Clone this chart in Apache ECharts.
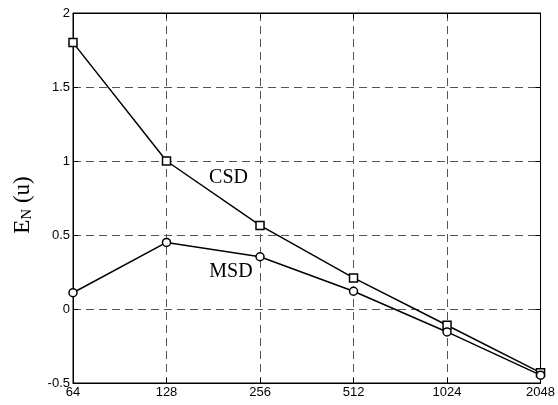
<!DOCTYPE html>
<html><head><meta charset="utf-8">
<script src="https://cdn.jsdelivr.net/npm/echarts@6/dist/echarts.min.js"></script>
<style>html,body{margin:0;padding:0;background:#fff}#c{width:558px;height:405px}</style>
</head><body><div id="c"></div>
<script>
const categories = ['64','128','256','512','1024','2048'];
const csd = [1.8, 1.0, 0.565, 0.21, -0.11, -0.43];
const msd = [0.11, 0.45, 0.353, 0.12, -0.155, -0.447];
const yTicks = [-0.5, 0, 0.5, 1, 1.5, 2];

const chart = echarts.init(document.getElementById('c'));
const tickFont = {fontFamily: 'Liberation Sans, Arial, sans-serif', fontSize: 13, color: '#000'};
const serif = 'Liberation Serif, Times New Roman, serif';
chart.setOption({
  animation: false,
  grid: {left: 73, right: 15, top: 13, bottom: 22, show: true, borderColor: '#000', borderWidth: 1},
  xAxis: [{
    type: 'category', data: categories, boundaryGap: false,
    axisLine: {onZero: false, lineStyle: {color: '#000'}},
    axisTick: {inside: true, length: 5, lineStyle: {color: '#000'}},
    axisLabel: Object.assign({margin: 3}, tickFont),
    splitLine: {show: true, lineStyle: {color: '#555', type: [8, 5], width: 1}}
  }, {
    type: 'category', data: categories, boundaryGap: false, position: 'top',
    axisLine: {onZero: false, lineStyle: {color: '#000'}},
    axisTick: {inside: true, length: 5, lineStyle: {color: '#000'}},
    axisLabel: {show: false}
  }],
  yAxis: [{
    type: 'value', min: yTicks[0], max: yTicks[yTicks.length - 1], interval: 0.5,
    axisLine: {show: true, onZero: false, lineStyle: {color: '#000'}},
    axisTick: {show: true, inside: true, length: 5, lineStyle: {color: '#000'}},
    axisLabel: Object.assign({margin: 3}, tickFont),
    splitLine: {show: true, lineStyle: {color: '#555', type: [8, 5], width: 1}},
    name: '{a|E}{b|N}{a| (u)}', nameLocation: 'middle', nameRotate: 90, nameGap: 38,
    nameTextStyle: {
      padding: [0, 14, 0, 0],
      rich: {
        a: {fontFamily: serif, fontSize: 23, color: '#000'},
        b: {fontFamily: serif, fontSize: 15, color: '#000', verticalAlign: 'bottom', padding: [9, 0, 0, 0]}
      }
    }
  }, {
    type: 'value', min: yTicks[0], max: yTicks[yTicks.length - 1], interval: 0.5, position: 'right',
    axisLine: {show: true, onZero: false, lineStyle: {color: '#000'}},
    axisTick: {show: true, inside: true, length: 5, lineStyle: {color: '#000'}},
    axisLabel: {show: false}, splitLine: {show: false}
  }],
  series: [{
    name: 'CSD', type: 'line', data: csd.map((v, i) => i === 1 ? {value: v, label: {show: true, formatter: 'CSD', offset: [62, 17]}} : v),
    symbol: 'rect', symbolSize: 8,
    lineStyle: {color: '#000', width: 1.5},
    itemStyle: {color: '#fff', borderColor: '#000', borderWidth: 1.5},
    label: {show: false, position: 'inside', color: '#000', fontFamily: serif, fontSize: 20},
    z: 3
  }, {
    name: 'MSD', type: 'line', data: msd.map((v, i) => i === 2 ? {value: v, label: {show: true, formatter: 'MSD', offset: [-29, 15]}} : v),
    symbol: 'circle', symbolSize: 8,
    lineStyle: {color: '#000', width: 1.5},
    itemStyle: {color: '#fff', borderColor: '#000', borderWidth: 1.5},
    label: {show: false, position: 'inside', color: '#000', fontFamily: serif, fontSize: 20},
    z: 3
  }]
});
</script></body></html>
